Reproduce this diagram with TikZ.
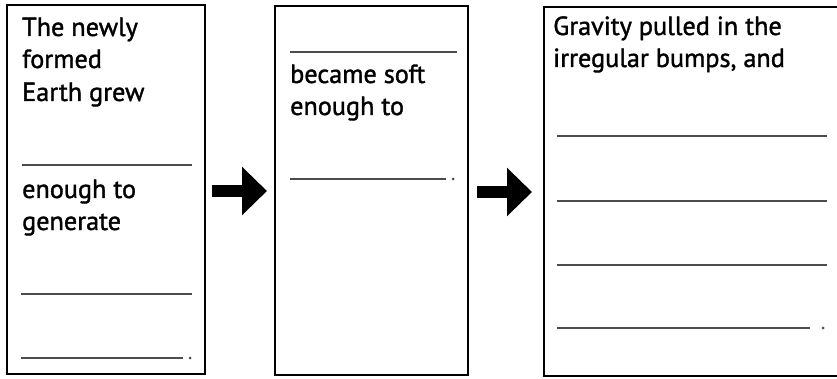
\documentclass[tikz,border=0pt]{standalone}
\usepackage{fontspec}
\setmainfont{PT Sans}
\newfontfamily\panelfont[FakeBold=1.4]{PT Sans}
\usetikzlibrary{arrows.meta}
\begin{document}
\begin{tikzpicture}[x=1pt,y=-1pt,
  panel/.style={draw=black,line width=2.8pt},
  txt/.style={anchor=base west,inner sep=0pt,font=\panelfont\fontsize{26.2}{30}\selectfont},
  blank/.style={draw=black!70,line width=1.8pt},
  blankdot/.style={fill=black!70},
  bigarrow/.style={line width=11.5pt,-{Triangle[length=25pt,width=47pt]}}]
\useasboundingbox (0,0) rectangle (837,379);
\begin{scope}
\clip (0,0) rectangle (837,379);
% panels
\draw[panel] (7,5) rectangle (205,374);
\draw[panel] (275,6) rectangle (468,375);
\draw[panel] (544,7) rectangle (860,376);
% panel 1 text
\node[txt] (t1a) at (22,36) {The newly};
\node[txt] (t1b) at (22,68) {formed};
\node[txt] (t1c) at (22,101) {Earth grew};
\node[txt] (t1d) at (22,198) {enough to};
\node[txt] (t1e) at (22,230) {generate};
% panel 1 blanks
\coordinate (l1as) at (22,165); \coordinate (l1ae) at (192,165);
\coordinate (l1bs) at (21,294); \coordinate (l1be) at (192,294);
\coordinate (l1cs) at (21,358); \coordinate (l1ce) at (183,358);
\draw[blank] (l1as) -- (l1ae);
\draw[blank] (l1bs) -- (l1be);
\draw[blank] (l1cs) -- (l1ce);
\fill[blankdot] (190,358) circle (1.5);
% panel 2 text
\node[txt] (t2a) at (290,83) {became soft};
\node[txt] (t2b) at (290,115) {enough to};
\coordinate (l2as) at (290,52); \coordinate (l2ae) at (457,52);
\coordinate (l2bs) at (290,179); \coordinate (l2be) at (446,179);
\draw[blank] (l2as) -- (l2ae);
\draw[blank] (l2bs) -- (l2be);
\fill[blankdot] (453,179) circle (1.5);
% panel 3 text
\node[txt] (t3a) at (553,35) {Gravity pulled in the};
\node[txt] (t3b) at (553,67) {irregular bumps, and};
\coordinate (l3as) at (557,136); \coordinate (l3ae) at (827,136);
\coordinate (l3bs) at (557,201); \coordinate (l3be) at (827,201);
\coordinate (l3cs) at (557,265); \coordinate (l3ce) at (827,265);
\coordinate (l3ds) at (557,328); \coordinate (l3de) at (810,328);
\draw[blank] (l3as) -- (l3ae);
\draw[blank] (l3bs) -- (l3be);
\draw[blank] (l3cs) -- (l3ce);
\draw[blank] (l3ds) -- (l3de);
\fill[blankdot] (823,328) circle (1.5);
% arrows
\coordinate (a1s) at (212,191); \coordinate (a1e) at (267,191);
\coordinate (a2s) at (477,192); \coordinate (a2e) at (532,192);
\draw[bigarrow] (a1s) -- (a1e);
\draw[bigarrow] (a2s) -- (a2e);
\end{scope}
\end{tikzpicture}
\end{document}
